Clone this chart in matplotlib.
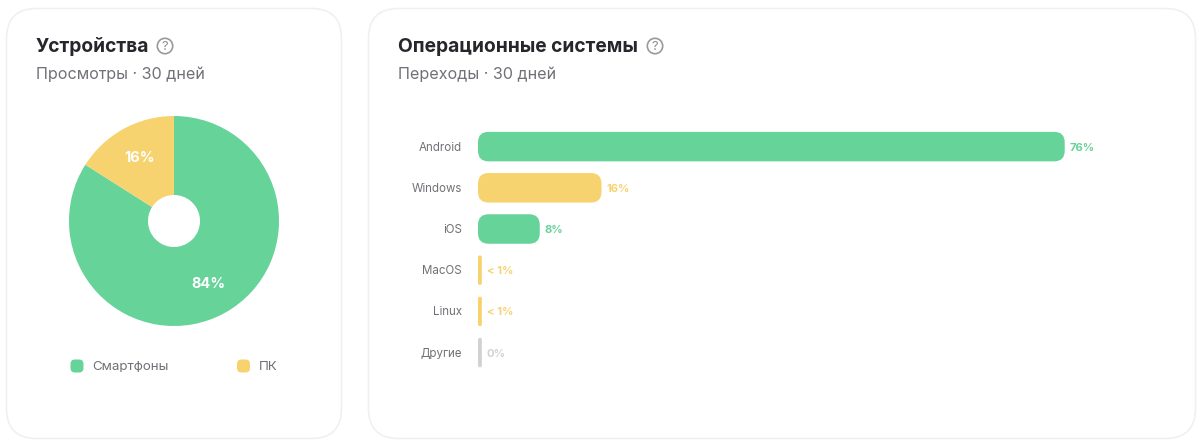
import matplotlib
matplotlib.use('Agg')
import matplotlib.pyplot as plt
from matplotlib.patches import FancyBboxPatch, Circle

plt.rcParams['font.family'] = ['Inter', 'DejaVu Sans']

GREEN = '#66d399'
YELLOW = '#f6d36f'
GRAY = '#d2d2d2'

# devices pie
device_names = ['Смартфоны', 'ПК']
device_values = [84, 16]

# operating systems bars
os_names = ['Android', 'Windows', 'iOS', 'MacOS', 'Linux', 'Другие']
os_values = [76, 16, 8, 0.5, 0.5, 0]
os_labels = ['76%', '16%', '8%', '< 1%', '< 1%', '0%']
os_colors = [GREEN, YELLOW, GREEN, YELLOW, YELLOW, GRAY]

W, H = 1200, 444
fig = plt.figure(figsize=(W / 100, H / 100), dpi=100)


def px_axes(x0, y0, x1, y1):
    # axes placed by pixel box, y counted from the top
    return fig.add_axes([x0 / W, 1 - y1 / H, (x1 - x0) / W, (y1 - y0) / H])


# background layer in pixel coordinates: cards, headers, legend
bg = px_axes(0, 0, W, H)
bg.set_xlim(0, W)
bg.set_ylim(H, 0)
bg.axis('off')


def rounded(ax, x, y, w, h, r, **kw):
    box = FancyBboxPatch((x, y), w, h, boxstyle=f'round,pad=0,rounding_size={r}', **kw)
    ax.add_patch(box)


def header(x, title, subtitle, icon_x):
    bg.text(x, 46.5, title, fontsize=13.8, fontweight='bold', color='#26262b', va='center')
    bg.text(x, 74, subtitle, fontsize=11.6, color='#6f7176', va='center')
    bg.add_patch(Circle((icon_x, 46), 7.7, fill=False, ec='#9a9a9a', lw=1.2))
    bg.text(icon_x, 46, '?', fontsize=9.5, color='#8e8e8e', ha='center', va='center_baseline')


rounded(bg, 6.5, 8.5, 335, 430, 30, fc='white', ec='#f0f0f0', lw=1.2)
rounded(bg, 368.5, 8.5, 827, 430, 30, fc='white', ec='#f0f0f0', lw=1.2)

header(36, 'Устройства', 'Просмотры · 30 дней', 165)
header(398, 'Операционные системы', 'Переходы · 30 дней', 655)

# legend under the pie
legend_x = [70.5, 237]
for name, color, x in zip(device_names, [GREEN, YELLOW], legend_x):
    rounded(bg, x, 359.5, 13, 13, 4.5, fc=color, ec='none')
    bg.text(x + 21.5, 366.5, name, fontsize=9.6, color='#6f7176', va='center')

# pie
pie_ax = px_axes(69, 116, 279, 326)
pie_ax.pie(device_values, colors=[GREEN, YELLOW], startangle=90, counterclock=False,
           radius=1, wedgeprops={'width': 79 / 105, 'linewidth': 0},
           autopct='%d%%', pctdistance=0.686,
           textprops={'color': 'white', 'fontsize': 10.5, 'fontweight': 'bold'})
pie_ax.set_xlim(-1, 1)
pie_ax.set_ylim(-1, 1)

# horizontal bars, 7.72 px per percent and 41.2 px per row
PX_X = 7.72
PX_Y = 41.2
bar_ax = px_axes(478, 126, 1178, 126 + 6 * PX_Y)
bar_ax.set_xlim(0, 700 / PX_X)
bar_ax.set_ylim(5.5, -0.5)
bar_ax.axis('off')

for i, (name, val, lab, color) in enumerate(zip(os_names, os_values, os_labels, os_colors)):
    w = max(val, 0.5)
    r = min(10.5, w * PX_X / 2) / PX_X
    h = 29.5 / PX_Y
    bar_ax.add_patch(FancyBboxPatch((0, i - h / 2), w, h,
                                    boxstyle=f'round,pad=0,rounding_size={r}',
                                    mutation_aspect=PX_X / PX_Y, fc=color, ec='none'))
    # text sits a pixel below the bar centre
    y_text = i + 1 / PX_Y
    bar_ax.text(w + 5 / PX_X, y_text, lab, fontsize=8.1, fontweight='bold', color=color, va='center')
    bar_ax.text(-16 / PX_X, y_text, name, fontsize=8.3, color='#6f7176', ha='right', va='center', clip_on=False)

fig.savefig('out.png', dpi=100)
